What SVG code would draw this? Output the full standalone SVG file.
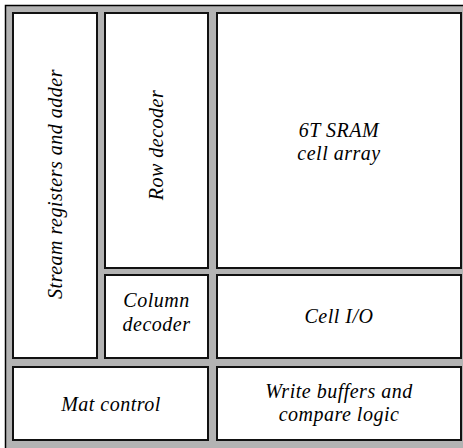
<svg xmlns="http://www.w3.org/2000/svg" width="463" height="448" viewBox="0 0 463 448">
<style>
.frame{fill:#b3b3b3;stroke:#000;stroke-width:1.5}
.box{fill:#fff;stroke:#111;stroke-width:2}
.lbl{font-family:"Liberation Serif","Times New Roman",serif;font-style:italic;font-size:20px;fill:#000;text-anchor:middle;letter-spacing:0.5px}
</style>
<rect class="frame" x="5.5" y="5.5" width="470" height="460"/>
<g id="stream">
<rect class="box" x="13" y="13" width="84" height="345"/>
<text class="lbl" transform="translate(62,184) rotate(-90)">Stream registers and adder</text>
</g>
<g id="row-decoder">
<rect class="box" x="105" y="13" width="103" height="255"/>
<text class="lbl" transform="translate(163,145) rotate(-90)">Row decoder</text>
</g>
<g id="sram">
<rect class="box" x="217" y="13" width="244" height="255"/>
<text class="lbl" x="339" y="137">6T SRAM</text>
<text class="lbl" x="339" y="160">cell array</text>
</g>
<g id="column-decoder">
<rect class="box" x="105" y="275" width="103" height="83"/>
<text class="lbl" x="156.5" y="307">Column</text>
<text class="lbl" x="156.5" y="331">decoder</text>
</g>
<g id="cell-io">
<rect class="box" x="217" y="275" width="244" height="83"/>
<text class="lbl" x="339" y="323">Cell I/O</text>
</g>
<g id="mat-control">
<rect class="box" x="13" y="367" width="195" height="73"/>
<text class="lbl" x="111" y="411">Mat control</text>
</g>
<g id="write-buffers">
<rect class="box" x="217" y="367" width="244" height="73"/>
<text class="lbl" x="339" y="398">Write buffers and</text>
<text class="lbl" x="339" y="421">compare logic</text>
</g>
<g id="connectors"/>
</svg>
